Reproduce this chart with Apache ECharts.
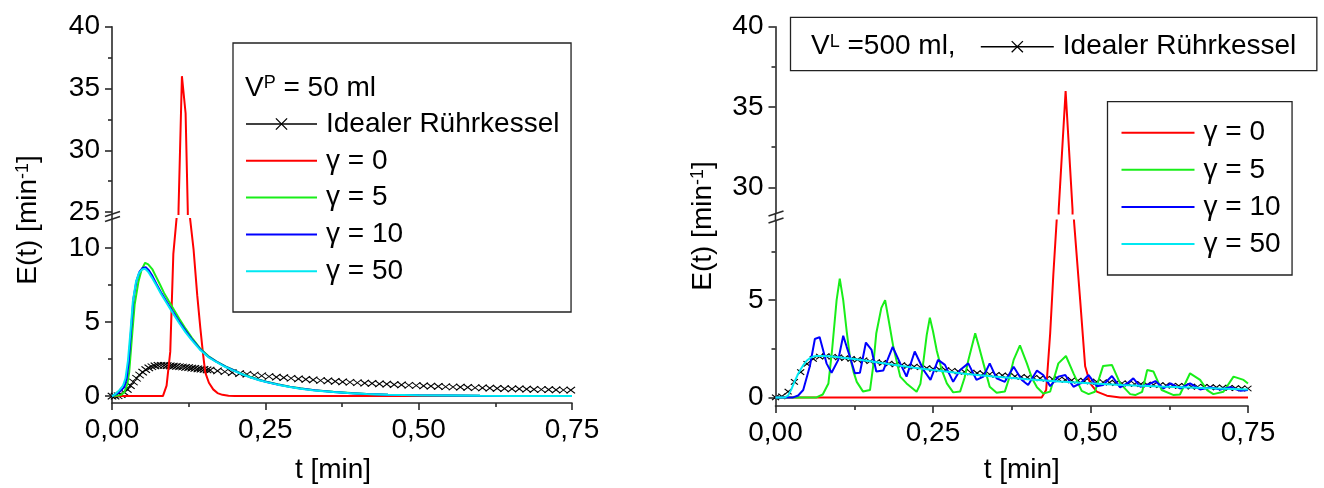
<!DOCTYPE html>
<html><head><meta charset="utf-8">
<script src="https://cdn.jsdelivr.net/npm/echarts@6/dist/echarts.min.js"></script>
<style>html,body{margin:0;padding:0;background:#fff}#c{width:1324px;height:488px}</style>
</head><body><div id="c"></div>
<script>
// ---------- data ----------
const xTicks = [0, 0.25, 0.5, 0.75];
const xTickLabels = ['0,00', '0,25', '0,50', '0,75'];
const leftUpperTicks = [25, 30, 35, 40];
const leftUpperMinor = [27.5, 32.5, 37.5];
const leftLowerTicks = [0, 5, 10];
const leftLowerMinor = [2.5, 7.5];
const rightUpperTicks = [30, 35, 40];
const rightUpperMinor = [32.5, 37.5];
const rightLowerTicks = [0, 5];
const rightLowerMinor = [2.5, 7.5];
const seriesNames = ['Idealer Rührkessel', 'γ = 0', 'γ = 5', 'γ = 10', 'γ = 50'];

// left panel: V^P = 50 ml   ([t, E(t)])
const leftIdeal = [[0,0],[0.005,0],[0.01,0.02],[0.015,0.1],[0.02,0.25],[0.025,0.45],[0.03,0.7],[0.035,0.95],[0.04,1.2],[0.045,1.42],[0.05,1.62],[0.055,1.78],[0.06,1.9],[0.065,1.98],[0.07,2.04],[0.075,2.07],[0.08,2.08],[0.085,2.07],[0.09,2.06],[0.095,2.04],[0.1,2.02],[0.105,2.0],[0.11,1.98],[0.115,1.96],[0.12,1.94],[0.125,1.92],[0.13,1.89],[0.135,1.87],[0.14,1.84],[0.145,1.82],[0.15,1.8],[0.155,1.77],[0.16,1.75],
  [0.172,1.7],[0.184,1.64],[0.196,1.58],[0.208,1.52],[0.22,1.47],[0.232,1.42],[0.244,1.37],[0.256,1.32],[0.268,1.28],[0.28,1.24],[0.292,1.2],[0.304,1.16],[0.316,1.12],[0.328,1.09],[0.34,1.05],[0.352,1.02],[0.364,0.99],[0.376,0.96],[0.388,0.93],[0.4,0.9],[0.412,0.87],[0.424,0.85],[0.436,0.82],[0.448,0.8],[0.46,0.77],[0.472,0.75],[0.484,0.73],[0.496,0.71],[0.508,0.69],[0.52,0.67],[0.532,0.65],[0.544,0.63],[0.556,0.61],[0.568,0.6],[0.58,0.58],[0.592,0.56],[0.604,0.55],[0.616,0.53],[0.628,0.52],[0.64,0.5],[0.652,0.49],[0.664,0.48],[0.676,0.47],[0.688,0.45],[0.7,0.44],[0.712,0.43],[0.724,0.42],[0.736,0.41],[0.748,0.4]];
const leftG0 = [[0,0],[0.083,0],[0.089,0.7],[0.095,3.0],[0.1,9.6],[0.1055,12.1],[0.1085,25.3],[0.114,36],[0.12,33],[0.1235,25.3],[0.127,12.1],[0.133,9.9],[0.139,6.8],[0.144,4.6],[0.148,3.0],[0.152,1.6],[0.158,0.9],[0.165,0.45],[0.172,0.2],[0.18,0.08],[0.19,0.02],[0.2,0],[0.75,0]];
const leftG5 = [[0,0],[0.01,0.03],[0.015,0.08],[0.02,0.25],[0.025,0.8],[0.028,1.6],[0.032,3.7],[0.037,6.2],[0.043,7.7],[0.048,8.5],[0.054,9.0],[0.059,8.9],[0.066,8.55],[0.072,8.05],[0.078,7.55],[0.085,6.95],[0.092,6.45],[0.1,5.9],[0.11,5.2],[0.12,4.55],[0.13,3.95],[0.143,3.25],[0.157,2.7],[0.17,2.35],[0.185,2.0],[0.198,1.76],[0.212,1.5],[0.225,1.3],[0.24,1.1],[0.252,0.97],[0.27,0.8],[0.29,0.63],[0.307,0.52],[0.33,0.4],[0.361,0.29],[0.39,0.2],[0.415,0.13],[0.45,0.08],[0.5,0.05],[0.55,0.03],[0.6,0.015],[0.65,0.008],[0.75,0.003]];
const leftG10 = [[0,0],[0.008,0.15],[0.014,0.35],[0.02,0.6],[0.024,1.2],[0.027,2.2],[0.031,4.4],[0.035,6.6],[0.04,7.8],[0.045,8.4],[0.05,8.65],[0.055,8.7],[0.06,8.5],[0.066,8.1],[0.072,7.6],[0.08,7.0],[0.088,6.45],[0.1,5.65],[0.11,5.0],[0.12,4.4],[0.13,3.85],[0.143,3.2],[0.157,2.66],[0.17,2.32],[0.185,1.98],[0.198,1.74],[0.212,1.48],[0.225,1.28],[0.24,1.08],[0.252,0.95],[0.27,0.78],[0.29,0.62],[0.307,0.51],[0.33,0.39],[0.361,0.28],[0.39,0.19],[0.415,0.13],[0.45,0.08],[0.5,0.05],[0.55,0.03],[0.6,0.015],[0.65,0.008],[0.75,0.003]];
const leftG50 = [[0,0],[0.006,0.15],[0.012,0.4],[0.018,0.7],[0.022,1.2],[0.026,2.4],[0.03,4.3],[0.034,6.4],[0.039,7.7],[0.044,8.3],[0.049,8.55],[0.054,8.6],[0.059,8.4],[0.065,8.0],[0.072,7.5],[0.08,6.9],[0.088,6.35],[0.1,5.55],[0.11,4.9],[0.12,4.3],[0.13,3.78],[0.143,3.15],[0.157,2.63],[0.17,2.3],[0.185,1.96],[0.198,1.72],[0.212,1.47],[0.225,1.27],[0.24,1.07],[0.252,0.94],[0.27,0.77],[0.29,0.61],[0.307,0.5],[0.33,0.38],[0.361,0.27],[0.39,0.19],[0.415,0.13],[0.45,0.08],[0.5,0.05],[0.55,0.03],[0.6,0.015],[0.65,0.008],[0.75,0.003]];

// right panel: V^L = 500 ml
const rightIdeal = [[0,0],[0.01,0.05],[0.02,0.3],[0.03,0.8],[0.04,1.3],[0.05,1.72],[0.06,1.98],[0.07,2.1],[0.08,2.12],[0.09,2.09],[0.1,2.06],[0.11,2.02],[0.12,1.98],[0.13,1.94],[0.14,1.9],[0.15,1.86],[0.16,1.82],[0.17,1.78],[0.18,1.74],[0.19,1.7],[0.2,1.66],[0.21,1.62],[0.22,1.58],[0.23,1.55],[0.24,1.51],[0.25,1.47],[0.26,1.44],[0.27,1.4],[0.28,1.37],[0.29,1.34],[0.3,1.31],[0.31,1.28],[0.32,1.25],[0.33,1.22],[0.34,1.19],[0.35,1.16],[0.36,1.13],[0.37,1.11],[0.38,1.08],[0.39,1.06],[0.4,1.03],[0.41,1.01],[0.42,0.98],[0.43,0.96],[0.44,0.94],[0.45,0.92],[0.46,0.9],[0.47,0.88],[0.48,0.86],[0.49,0.84],[0.5,0.82],[0.51,0.8],[0.52,0.78],[0.53,0.76],[0.54,0.74],[0.55,0.73],[0.56,0.71],[0.57,0.69],[0.58,0.68],[0.59,0.66],[0.6,0.65],[0.61,0.63],[0.62,0.62],[0.63,0.6],[0.64,0.59],[0.65,0.58],[0.66,0.56],[0.67,0.55],[0.68,0.54],[0.69,0.53],[0.7,0.52],[0.71,0.5],[0.72,0.49],[0.73,0.48],[0.74,0.47],[0.75,0.46]];
const rightG0 = [[0,0],[0.4225,0],[0.4296,0.38],[0.436,3.3],[0.441,6.3],[0.4465,9.2],[0.4495,28.6],[0.4605,36],[0.4715,28.6],[0.4735,9.2],[0.4836,5.0],[0.4915,1.6],[0.4995,0.72],[0.51,0.3],[0.526,0.09],[0.547,0],[0.75,0]];
const rightG5 = [[0,0],[0.065,0],[0.075,0.15],[0.084,0.72],[0.09,2.5],[0.097,5.0],[0.102,6.1],[0.1075,5.0],[0.113,3.4],[0.118,2.1],[0.124,1.3],[0.129,0.8],[0.139,0.3],[0.15,0.38],[0.155,1.6],[0.16,3.3],[0.168,4.6],[0.174,5.0],[0.18,3.9],[0.187,2.6],[0.198,1.07],[0.208,0.72],[0.224,0.29],[0.23,0.7],[0.235,1.9],[0.24,3.2],[0.245,4.1],[0.25,3.4],[0.256,2.4],[0.264,1.4],[0.272,0.72],[0.282,0.26],[0.293,0.3],[0.3,1.0],[0.306,1.9],[0.317,3.3],[0.323,2.6],[0.33,1.75],[0.34,0.55],[0.351,0.24],[0.364,0.3],[0.371,1.0],[0.378,1.93],[0.388,2.67],[0.399,1.75],[0.407,1.0],[0.415,0.52],[0.425,0.2],[0.436,0.3],[0.449,1.75],[0.461,2.13],[0.473,1.24],[0.486,0.34],[0.497,0.17],[0.507,0.29],[0.52,1.62],[0.534,1.67],[0.547,0.72],[0.563,0.17],[0.571,0.12],[0.582,0.29],[0.59,1.41],[0.6,1.33],[0.613,0.38],[0.632,0.12],[0.642,0.15],[0.658,1.24],[0.674,0.9],[0.685,0.38],[0.695,0.17],[0.711,0.29],[0.727,1.07],[0.743,0.9],[0.75,0.72]];
const rightG10 = [[0,0],[0.028,0],[0.036,0.1],[0.044,0.38],[0.0545,1.6],[0.0625,3.0],[0.07,3.1],[0.075,2.5],[0.081,1.75],[0.089,1.27],[0.0996,1.93],[0.1075,3.17],[0.113,2.6],[0.118,2.1],[0.126,1.24],[0.134,1.27],[0.1435,2.82],[0.1525,2.44],[0.16,1.33],[0.171,1.38],[0.186,2.6],[0.198,1.75],[0.208,1.07],[0.221,2.36],[0.235,1.41],[0.246,0.9],[0.258,1.93],[0.269,1.67],[0.282,0.8],[0.293,1.41],[0.306,1.75],[0.319,0.9],[0.33,1.07],[0.34,1.75],[0.351,0.98],[0.364,0.8],[0.378,1.58],[0.391,0.9],[0.401,0.64],[0.415,1.38],[0.425,1.15],[0.436,0.58],[0.449,1.07],[0.46,1.15],[0.473,0.55],[0.484,0.72],[0.497,1.15],[0.51,0.58],[0.52,0.64],[0.534,1.1],[0.547,0.52],[0.558,0.72],[0.568,0.98],[0.579,0.55],[0.59,0.64],[0.603,0.84],[0.616,0.46],[0.627,0.72],[0.642,0.46],[0.658,0.72],[0.674,0.41],[0.69,0.52],[0.706,0.41],[0.722,0.52],[0.738,0.34],[0.75,0.38]];
const rightG50 = [[0,0],[0.015,0],[0.02,0.1],[0.025,0.4],[0.03,0.8],[0.035,1.15],[0.04,1.45],[0.045,1.7],[0.05,1.9],[0.055,2.03],[0.06,2.1],[0.065,2.13],[0.075,2.13],[0.09,2.1],[0.1,2.07],[0.125,1.98],[0.15,1.86],[0.187,1.68],[0.22,1.53],[0.25,1.41],[0.3,1.22],[0.346,1.07],[0.4,0.93],[0.45,0.82],[0.505,0.72],[0.55,0.64],[0.61,0.56],[0.68,0.48],[0.75,0.41]];

// ---------- style / layout ----------
const FONT = 'Liberation Sans, Arial, sans-serif';
const AX = '#2a2a2a';
const COLORS = { ideal: '#000000', g0: '#ff0000', g5: '#19ee19', g10: '#0000ff', g50: '#00e8f2' };
const XPATH = 'path://M0,0L10,10M10,0L0,10';
const L = { x0: 112, x1: 572, upTop: 26.7, upBot: 214, loTop: 219, loBot: 403, upRange: [24.85, 40], loRange: [-0.47, 11.96] };
const R = { x0: 775.5, x1: 1248, upTop: 26.7, upBot: 213.5, loTop: 220.5, loBot: 406, upRange: [28.37, 40], loRange: [-0.44, 9.09] };

const chart = echarts.init(document.getElementById('c'), null, { renderer: 'canvas' });
const axLine = { color: AX, width: 1.6 };

function grid(P, up) {
  return up ? { left: P.x0, width: P.x1 - P.x0, top: P.upTop, height: P.upBot - P.upTop }
            : { left: P.x0, width: P.x1 - P.x0, top: P.loTop, height: P.loBot - P.loTop };
}
function xHidden(g) { return { type: 'value', gridIndex: g, min: 0, max: 0.75, show: false }; }
function xMain(g, gap, namePad) {
  return {
    type: 'value', gridIndex: g, min: 0, max: 0.75, interval: 0.25,
    axisLine: { show: true, onZero: false, lineStyle: axLine },
    axisTick: { show: true, length: 7, lineStyle: axLine },
    minorTick: { show: true, splitNumber: 2, length: 4, lineStyle: axLine },
    splitLine: { show: false }, minorSplitLine: { show: false },
    axisLabel: { fontSize: 28, fontFamily: FONT, color: '#000', margin: 13,
      formatter: v => { const i = xTicks.findIndex(t => Math.abs(t - v) < 1e-9); return i >= 0 ? xTickLabels[i] : ''; } },
    name: 't [min]', nameLocation: 'middle', nameGap: gap,
    nameTextStyle: { fontSize: 28, fontFamily: FONT, color: '#000', padding: namePad }
  };
}
function yMain(g, range, ticks) {
  return {
    type: 'value', gridIndex: g, position: 'left', min: range[0], max: range[1],
    axisLine: { show: true, onZero: false, lineStyle: axLine },
    axisTick: { show: true, length: 7, customValues: ticks, lineStyle: axLine },
    axisLabel: { show: true, customValues: ticks, fontSize: 28, fontFamily: FONT, color: '#000', margin: 12 },
    splitLine: { show: false }
  };
}
function yMinor(g, range, ticks) {
  return {
    type: 'value', gridIndex: g, position: 'left', min: range[0], max: range[1],
    axisLine: { show: false, onZero: false },
    axisTick: { show: true, length: 4, customValues: ticks, lineStyle: axLine },
    axisLabel: { show: false }, splitLine: { show: false }
  };
}
function lineSeries(name, data, color, xi, yi) {
  return { type: 'line', name, data, xAxisIndex: xi, yAxisIndex: yi, symbol: 'none',
    lineStyle: { color, width: 2 }, itemStyle: { color }, clip: true, silent: true, z: 3 };
}
function idealSeries(data, xi, yi, size) {
  return { type: 'line', name: seriesNames[0], data, xAxisIndex: xi, yAxisIndex: yi,
    symbol: XPATH, symbolSize: size, showSymbol: true,
    lineStyle: { width: 0, opacity: 0 },
    itemStyle: { color: '#000', borderColor: '#000', borderWidth: 1.1 }, clip: true, silent: true, z: 2 };
}
const legendText = { fontSize: 28, fontFamily: FONT, color: '#000', lineHeight: 30, padding: [0, 0, 0, 4] };
const idealLegendItem = { name: seriesNames[0], itemStyle: { color: 'transparent', borderColor: '#000', borderWidth: 1.3, opacity: 1 },
  lineStyle: { color: '#000', width: 1.6, opacity: 1 } };
function gLegendItem(name) { return { name, itemStyle: { opacity: 0 } }; }

const option = {
  animation: false,
  backgroundColor: '#fff',
  grid: [grid(L, true), grid(L, false), grid(R, true), grid(R, false)],
  xAxis: [xHidden(0), xMain(1, 53, [0, 18, 0, 0]), xHidden(2), xMain(3, 50, [0, 0, 0, 20])],
  yAxis: [
    yMain(0, L.upRange, leftUpperTicks), yMinor(0, L.upRange, leftUpperMinor),
    yMain(1, L.loRange, leftLowerTicks), yMinor(1, L.loRange, leftLowerMinor),
    yMain(2, R.upRange, rightUpperTicks), yMinor(2, R.upRange, rightUpperMinor),
    yMain(3, R.loRange, rightLowerTicks), yMinor(3, R.loRange, rightLowerMinor)
  ],
  legend: [
    { left: 233, top: 43, orient: 'vertical', selectedMode: false,
      data: [idealLegendItem, gLegendItem(seriesNames[1]), gLegendItem(seriesNames[2]), gLegendItem(seriesNames[3]), gLegendItem(seriesNames[4])],
      itemWidth: 71, itemHeight: 14, itemGap: 6.8, padding: [66, 11.6, 25.8, 12],
      borderColor: '#222', borderWidth: 1.3, textStyle: legendText },
    { left: 790.5, top: 17.3, orient: 'horizontal', selectedMode: false,
      data: [idealLegendItem], itemWidth: 73, itemHeight: 14,
      padding: [14.4, 20.6, 9, 189.5], borderColor: '#222', borderWidth: 1.3, textStyle: legendText },
    { left: 1107.5, top: 101.7, orient: 'vertical', selectedMode: false,
      data: [gLegendItem(seriesNames[1]), gLegendItem(seriesNames[2]), gLegendItem(seriesNames[3]), gLegendItem(seriesNames[4])],
      itemWidth: 73, itemHeight: 14, itemGap: 7.1, padding: [16, 11.5, 16, 13],
      borderColor: '#222', borderWidth: 1.3, textStyle: legendText }
  ],
  series: [
    idealSeries(leftIdeal, 1, 2, [8.5, 6.5]),
    lineSeries(seriesNames[1], leftG0, COLORS.g0, 1, 2),
    lineSeries(seriesNames[1], leftG0, COLORS.g0, 0, 0),
    lineSeries(seriesNames[2], leftG5, COLORS.g5, 1, 2),
    lineSeries(seriesNames[3], leftG10, COLORS.g10, 1, 2),
    lineSeries(seriesNames[4], leftG50, COLORS.g50, 1, 2),
    idealSeries(rightIdeal, 3, 6, [7, 5.5]),
    lineSeries(seriesNames[1], rightG0, COLORS.g0, 3, 6),
    lineSeries(seriesNames[1], rightG0, COLORS.g0, 2, 4),
    lineSeries(seriesNames[2], rightG5, COLORS.g5, 3, 6),
    lineSeries(seriesNames[3], rightG10, COLORS.g10, 3, 6),
    lineSeries(seriesNames[4], rightG50, COLORS.g50, 3, 6)
  ]
};
chart.setOption(option);

// ---------- texts + axis break marks ----------
const rich = {
  n: { fontSize: 28, fontFamily: FONT, fill: '#000' },
  s: { fontSize: 18, fontFamily: FONT, fill: '#000', verticalAlign: 'top' }
};
function breakMark(xAxisIdx, upYAxis, upMin, loYAxis, loMax) {
  const ax = chart.convertToPixel({ xAxisIndex: xAxisIdx }, 0);
  const yA = chart.convertToPixel({ yAxisIndex: upYAxis }, upMin);
  const yB = chart.convertToPixel({ yAxisIndex: loYAxis }, loMax);
  const st = { stroke: AX, lineWidth: 1.6 };
  return [
    { type: 'line', shape: { x1: ax, y1: yA, x2: ax, y2: yB }, style: st, silent: true },
    { type: 'line', shape: { x1: ax - 7, y1: yA + 2.6, x2: ax + 8, y2: yA - 2.6 }, style: st, silent: true },
    { type: 'line', shape: { x1: ax - 7, y1: yB + 2.6, x2: ax + 8, y2: yB - 2.6 }, style: st, silent: true }
  ];
}
chart.setOption({
  graphic: [
    { type: 'text', x: 245, y: 88, silent: true,
      style: { text: '{n|V}{s|P}{n| = 50 ml}', rich, verticalAlign: 'middle', align: 'left', fill: '#000' } },
    { type: 'text', x: 811, y: 46.7, silent: true,
      style: { text: '{n|V}{s|L}{n| =500 ml,}', rich, verticalAlign: 'middle', align: 'left', fill: '#000' } },
    { type: 'text', x: 28, y: 220, rotation: Math.PI / 2, silent: true,
      style: { text: '{n|E(t) [min}{s|-1}{n|]}', rich, align: 'center', verticalAlign: 'middle', fill: '#000' } },
    { type: 'text', x: 703, y: 226, rotation: Math.PI / 2, silent: true,
      style: { text: '{n|E(t) [min}{s|-1}{n|]}', rich, align: 'center', verticalAlign: 'middle', fill: '#000' } },
    ...breakMark(1, 0, L.upRange[0], 2, L.loRange[1]),
    ...breakMark(3, 4, R.upRange[0], 6, R.loRange[1])
  ]
});
</script></body></html>
